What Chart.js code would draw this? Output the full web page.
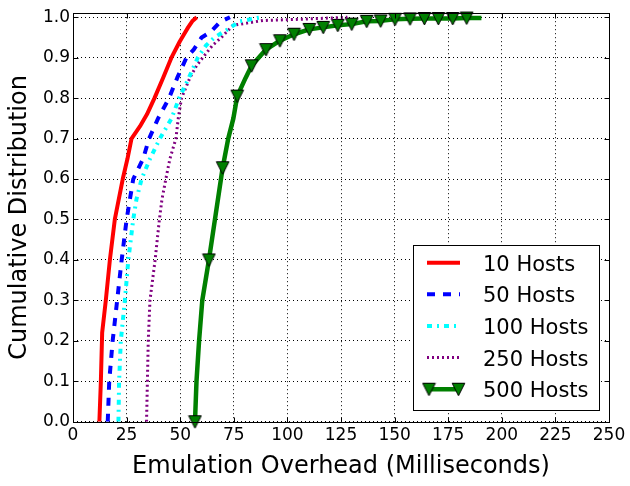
<!DOCTYPE html>
<html><head><meta charset="utf-8">
<script src="https://cdn.jsdelivr.net/npm/chart.js@4/dist/chart.umd.min.js"></script>
<style>html,body{margin:0;padding:0;background:#fff}canvas{display:block}</style>
</head><body>
<canvas id="c" width="630" height="486"></canvas>
<script>
// ---- data ----
const seriesLabels = ['10 Hosts', '50 Hosts', '100 Hosts', '250 Hosts', '500 Hosts'];
const xTicks = [0, 25, 50, 75, 100, 125, 150, 175, 200, 225, 250];
const yTicks = [0.0, 0.1, 0.2, 0.3, 0.4, 0.5, 0.6, 0.7, 0.8, 0.9, 1.0];

const hosts10X = [12.3, 13.0, 13.6, 15.3, 17.2, 19.5, 23.2, 25.4, 27.3, 31.2, 34.5, 38.0, 42.0, 45.9, 49.8, 52.0, 53.7, 55.6, 57.7];
const hosts10Y = [0.00, 0.10, 0.22, 0.30, 0.40, 0.50, 0.60, 0.65, 0.70, 0.73, 0.76, 0.80, 0.85, 0.90, 0.94, 0.96, 0.975, 0.99, 1.00];

const hosts50X = [16.2, 16.9, 18.5, 20.6, 22.7, 25.0, 28.1, 32.7, 35.5, 39.7, 44.8, 48.6, 52.9, 56.3, 60.0, 64.5, 68.5, 73.2];
const hosts50Y = [0.00, 0.10, 0.20, 0.30, 0.40, 0.50, 0.60, 0.65, 0.70, 0.75, 0.80, 0.85, 0.90, 0.92, 0.95, 0.965, 0.988, 1.00];

const hosts100X = [21.2, 21.5, 22.3, 24.2, 25.8, 28.1, 29.6, 32.0, 35.9, 40.5, 46.0, 49.5, 54.0, 58.2, 62.0, 66.0, 71.5, 77.8, 87.8];
const hosts100Y = [0.00, 0.10, 0.20, 0.30, 0.40, 0.50, 0.55, 0.60, 0.65, 0.70, 0.75, 0.80, 0.85, 0.90, 0.93, 0.95, 0.968, 0.99, 1.00];

const hosts250X = [34.3, 34.7, 35.1, 35.9, 38.3, 40.3, 41.5, 43.3, 45.2, 48.0, 49.1, 50.6, 54.5, 57.6, 60.5, 65.0, 69.2, 74.6, 88.6, 101.0, 115.0, 128.0];
const hosts250Y = [0.00, 0.10, 0.20, 0.30, 0.40, 0.50, 0.55, 0.60, 0.65, 0.70, 0.75, 0.80, 0.85, 0.88, 0.90, 0.93, 0.95, 0.98, 0.992, 0.994, 0.997, 1.00];

const hosts500X = [56.9, 57.6, 58.8, 60.3, 63.4, 66.2, 69.8, 72.4, 74.8, 76.6, 80.5, 83.3, 90.0, 96.5, 103.1, 110.2, 116.7, 123.5, 130.0, 137.0, 143.5, 150.2, 157.2, 163.9, 170.4, 177.1, 183.6, 190.5];
const hosts500Y = [0.00, 0.10, 0.20, 0.30, 0.40, 0.50, 0.628, 0.70, 0.75, 0.805, 0.85, 0.88, 0.92, 0.942, 0.958, 0.97, 0.975, 0.98, 0.983, 0.99, 0.991, 0.995, 0.996, 0.997, 0.997, 0.997, 0.998, 0.998];
const hosts500Marker = [1, 0, 0, 0, 1, 0, 1, 0, 0, 1, 0, 1, 1, 1, 1, 1, 1, 1, 1, 1, 1, 1, 1, 1, 1, 1, 1, 0];

// ---- helpers ----
const pts = (xs, ys) => xs.map((x, i) => ({x: x, y: ys[i]}));

// matplotlib-like "v" marker image
const tri = document.createElement('canvas');
tri.width = 15; tri.height = 15;
(function () {
  const g = tri.getContext('2d');
  g.beginPath();
  g.moveTo(1.2, 1.5); g.lineTo(13.8, 1.5); g.lineTo(7.5, 14.0); g.closePath();
  g.fillStyle = '#008000'; g.fill();
  g.lineWidth = 1; g.strokeStyle = '#000'; g.stroke();
})();

Chart.defaults.font.family = '"DejaVu Sans", sans-serif';
Chart.defaults.color = '#000';

const datasets = [
  {label: seriesLabels[0], data: pts(hosts10X, hosts10Y), borderColor: '#ff0000', borderWidth: 4, borderDash: []},
  {label: seriesLabels[1], data: pts(hosts50X, hosts50Y), borderColor: '#0000ff', borderWidth: 4, borderDash: [8, 8]},
  {label: seriesLabels[2], data: pts(hosts100X, hosts100Y), borderColor: '#00ffff', borderWidth: 4, borderDash: [5, 5, 2, 5]},
  {label: seriesLabels[3], data: pts(hosts250X, hosts250Y), borderColor: '#800080', borderWidth: 3, borderDash: [2, 3]},
  {label: seriesLabels[4], data: pts(hosts500X, hosts500Y), borderColor: '#008000', borderWidth: 4.5, borderDash: [],
   pointStyle: tri, pointRadius: ctx => hosts500Marker[ctx.dataIndex] ? 7 : 0, clip: false}
].map(d => Object.assign({pointRadius: 0, tension: 0, fill: false, borderJoinStyle: 'round', borderCapStyle: 'butt'}, d));

const framePlugin = {
  id: 'frame',
  afterDatasetsDraw(chart) {
    const {ctx, chartArea: a, scales} = chart;
    ctx.save();
    ctx.strokeStyle = '#000'; ctx.lineWidth = 1;
    const L = Math.round(a.left) + 0.5, R = Math.round(a.right) + 0.5, T = Math.round(a.top) + 0.5, B = Math.round(a.bottom) + 0.5;
    ctx.beginPath();
    xTicks.forEach(v => {
      const px = Math.round(scales.x.getPixelForValue(v)) + 0.5;
      ctx.moveTo(px, B); ctx.lineTo(px, B - 5);
      ctx.moveTo(px, T); ctx.lineTo(px, T + 5);
    });
    yTicks.forEach(v => {
      const py = Math.round(scales.y.getPixelForValue(v)) + 0.5;
      ctx.moveTo(L, py); ctx.lineTo(L + 5, py);
      ctx.moveTo(R, py); ctx.lineTo(R - 5, py);
    });
    ctx.stroke();
    ctx.strokeRect(L, T, R - L, B - T);
    ctx.restore();
  },
  afterDraw(chart) {
    const ctx = chart.ctx;
    ctx.save();
    const bx = 413.5, by = 245.5, bw = 186, bh = 165;
    ctx.fillStyle = '#fff';
    ctx.fillRect(bx, by, bw, bh);
    ctx.strokeStyle = '#000'; ctx.lineWidth = 1;
    ctx.strokeRect(bx, by, bw, bh);
    const rows = [262.7, 294.2, 325.9, 357.5, 389.2];
    chart.data.datasets.forEach((d, i) => {
      const y = rows[i];
      ctx.save();
      ctx.beginPath();
      ctx.strokeStyle = d.borderColor;
      ctx.lineWidth = d.borderWidth;
      ctx.setLineDash(d.borderDash || []);
      ctx.lineCap = 'butt';
      ctx.moveTo(427, y); ctx.lineTo(460, y);
      ctx.stroke();
      ctx.restore();
      if (i === 4) {
        ctx.drawImage(tri, 429 - 7.5, y - 7.5);
        ctx.drawImage(tri, 458.5 - 7.5, y - 7.5);
      }
      ctx.fillStyle = '#000';
      ctx.font = '21px "DejaVu Sans"';
      ctx.textAlign = 'left';
      ctx.textBaseline = 'alphabetic';
      ctx.fillText(d.label, 483, y + 8);
    });
    ctx.restore();
  }
};

new Chart(document.getElementById('c'), {
  type: 'line',
  data: {datasets: datasets},
  options: {
    responsive: false,
    animation: false,
    events: [],
    layout: {padding: {left: 0, top: 6, right: 21, bottom: 0}},
    plugins: {legend: {display: false}, tooltip: {enabled: false}},
    scales: {
      x: {
        type: 'linear', min: 0, max: 250,
        afterBuildTicks: s => { s.ticks = xTicks.map(v => ({value: v})); },
        ticks: {font: {size: 17}, color: '#000', padding: 4, maxRotation: 0, autoSkip: false,
                callback: v => String(v)},
        grid: {color: '#000', lineWidth: 1, drawTicks: false},
        border: {display: false, dash: [1, 3]},
        title: {display: true, text: 'Emulation Overhead (Milliseconds)', font: {size: 24}, color: '#000', padding: {top: 0, bottom: 5}},
        afterFit: s => { s.height = 64.3; }
      },
      y: {
        type: 'linear', min: 0, max: 1.01,
        afterBuildTicks: s => { s.ticks = yTicks.map(v => ({value: v})); },
        ticks: {font: {size: 17}, color: '#000', padding: 3, autoSkip: false,
                callback: v => v.toFixed(1)},
        grid: {color: '#000', lineWidth: 1, drawTicks: false},
        border: {display: false, dash: [1, 3]},
        title: {display: true, text: 'Cumulative Distribution', font: {size: 24}, color: '#000', padding: {top: 5, bottom: 0}},
        afterFit: s => { s.width = 73; }
      }
    }
  },
  plugins: [framePlugin]
});
</script>
</body></html>
